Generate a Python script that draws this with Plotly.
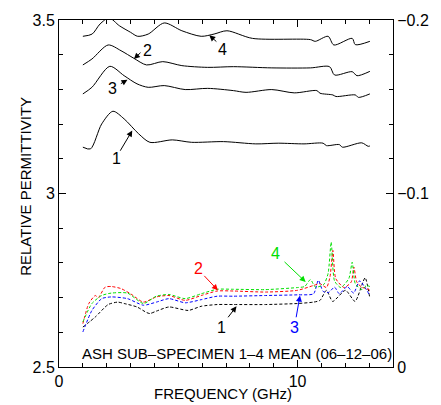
import plotly.graph_objects as go

# upper curves: imaginary part (right axis), solid black
f_im1 = [1.0, 1.32, 1.79, 2.26, 2.73, 3.34, 3.81, 4.75, 5.56, 6.9, 8.25, 9.19, 10.27,
         11.07, 11.21, 11.75, 11.88, 12.69, 12.96, 13.03]
im1 = [-0.1267, -0.1257, -0.1401, -0.1474, -0.1430, -0.1344, -0.1295, -0.1309, -0.1295,
       -0.1299, -0.1286, -0.1290, -0.1286, -0.1290, -0.1276, -0.1282, -0.1267, -0.1292,
       -0.1272, -0.1274]

f_im2 = [1.0, 1.38, 2.06, 2.6, 3.14, 3.67, 4.35, 5.15, 6.23, 7.31, 8.92, 10.54, 11.34,
         11.55, 12.29, 12.49, 13.03]
im2 = [-0.1741, -0.1775, -0.1856, -0.1823, -0.1779, -0.1741, -0.1760, -0.1737, -0.1727,
       -0.1731, -0.1724, -0.1724, -0.1731, -0.1683, -0.1702, -0.1679, -0.1704]

f_im3 = [1.0, 1.38, 2.13, 2.73, 3.27, 3.74, 4.41, 5.29, 6.23, 7.31, 7.84, 8.92, 9.86,
         10.81, 10.94, 11.48, 11.61, 12.42, 12.55, 13.03]
im3 = [-0.1574, -0.1612, -0.1733, -0.1679, -0.1632, -0.1612, -0.1622, -0.1599, -0.1606,
       -0.1593, -0.1583, -0.1599, -0.1580, -0.1593, -0.1578, -0.1568, -0.1559, -0.1568,
       -0.1554, -0.1574]

f_im4 = [1.0, 1.39, 1.72, 2.1, 2.53, 3.0, 3.3, 3.74, 4.41, 5.15, 5.96, 6.5, 7.04, 8.11,
         10.54, 10.74, 11.28, 11.52, 12.29, 12.42, 13.03]
im4 = [-0.1906, -0.1919, -0.1977, -0.2012, -0.1967, -0.1929, -0.1906, -0.1919, -0.1983,
       -0.1938, -0.1906, -0.1919, -0.1938, -0.1894, -0.1887, -0.1877, -0.1906, -0.1856,
       -0.1894, -0.1858, -0.1877]

# lower curves: real part (left axis), dashed
f_re1 = [1.0, 1.52, 2.06, 2.46, 2.73, 3.27, 3.67, 3.81, 4.08, 4.61, 5.42, 5.96, 6.63,
         7.31, 8.65, 10.0, 10.67, 10.94, 11.21, 11.47, 12.01, 12.41, 12.83, 13.03]
re1 = [2.615, 2.644, 2.680, 2.687, 2.683, 2.673, 2.657, 2.654, 2.661, 2.673, 2.663, 2.675,
       2.680, 2.680, 2.680, 2.683, 2.687, 2.692, 2.721, 2.689, 2.721, 2.689, 2.757, 2.698]

f_re2 = [1.0, 1.25, 1.52, 1.65, 1.93, 2.19, 2.6, 3.0, 3.54, 4.08, 4.61, 5.29, 5.96, 6.63,
         7.31, 8.65, 10.0, 10.67, 10.94, 11.21, 11.36, 11.48, 11.6, 11.95, 12.25, 12.36,
         12.48, 12.69, 12.89, 13.03]
re2 = [2.625, 2.683, 2.706, 2.700, 2.730, 2.732, 2.726, 2.711, 2.687, 2.702, 2.706, 2.692,
       2.706, 2.719, 2.719, 2.716, 2.721, 2.735, 2.740, 2.729, 2.760, 2.836, 2.755, 2.729,
       2.745, 2.788, 2.745, 2.730, 2.726, 2.721]

f_re3 = [1.0, 1.38, 1.79, 2.19, 2.87, 3.54, 4.08, 4.61, 5.29, 5.96, 6.63, 7.31, 8.65,
         10.0, 10.67, 10.87, 11.07, 11.3, 11.55, 11.75, 12.08, 12.35, 12.6, 13.03]
re3 = [2.601, 2.663, 2.697, 2.702, 2.697, 2.678, 2.687, 2.697, 2.685, 2.694, 2.704, 2.704,
       2.706, 2.708, 2.711, 2.750, 2.718, 2.715, 2.730, 2.711, 2.732, 2.713, 2.748, 2.706]

f_re4 = [1.0, 1.38, 1.79, 2.19, 2.87, 3.54, 4.08, 4.61, 5.29, 5.96, 6.63, 7.31, 8.65,
         10.0, 10.3, 10.54, 10.75, 11.1, 11.28, 11.41, 11.55, 11.81, 12.15, 12.29, 12.42,
         12.69, 12.89, 13.03]
re4 = [2.630, 2.683, 2.706, 2.713, 2.713, 2.683, 2.704, 2.709, 2.697, 2.711, 2.724, 2.724,
       2.723, 2.729, 2.732, 2.752, 2.730, 2.738, 2.770, 2.860, 2.748, 2.729, 2.755, 2.802,
       2.740, 2.723, 2.735, 2.732]

# arrow labels: (text, label x, label y, tail x, tail y, tip x, tip y, colour, axis)
labels = [
    ("4", 6.84, -0.1829, 6.66, -0.1868, 6.30, -0.1912, "black", "y2"),
    ("2", 3.72, -0.1827, 3.48, -0.1820, 3.14, -0.1775, "black", "y2"),
    ("3", 2.26, -0.1603, 2.53, -0.1628, 2.87, -0.1656, "black", "y2"),
    ("1", 2.43, -0.1200, 2.53, -0.1238, 3.07, -0.1363, "black", "y2"),
    ("2", 5.83, 2.783, 6.03, 2.767, 6.66, 2.721, "red", "y"),
    ("4", 9.06, 2.826, 9.39, 2.807, 10.34, 2.745, "#00e000", "y"),
    ("1", 6.83, 2.615, 7.04, 2.639, 7.44, 2.675, "black", "y"),
    ("3", 9.86, 2.615, 9.93, 2.639, 10.10, 2.706, "blue", "y"),
]

FONT = "Liberation Sans, Arial, sans-serif"

fig = go.Figure()
for fx, fy in [(f_im1, im1), (f_im2, im2), (f_im3, im3), (f_im4, im4)]:
    fig.add_trace(go.Scatter(x=fx, y=fy, yaxis="y2", mode="lines",
                             line=dict(color="black", width=1, shape="spline", smoothing=0.8)))
for fx, fy, col in [(f_re1, re1, "black"), (f_re2, re2, "red"),
                    (f_re3, re3, "blue"), (f_re4, re4, "#00e000")]:
    fig.add_trace(go.Scatter(x=fx, y=fy, mode="lines",
                             line=dict(color=col, width=1, dash="3px,2px",
                                       shape="spline", smoothing=0.6)))

ann = []
for txt, lx, ly, tx, ty, px, py, col, ax in labels:
    ann.append(dict(x=px, y=py, ax=tx, ay=ty, xref="x", yref=ax, axref="x", ayref=ax,
                    text="", showarrow=True, arrowhead=2, arrowsize=1.2, arrowwidth=1,
                    arrowcolor=col))
    ann.append(dict(x=lx, y=ly, xref="x", yref=ax, text=txt, showarrow=False,
                    font=dict(family=FONT, size=16, color=col)))
ann.append(dict(x=0.89, y=2.539, xref="x", yref="y", xanchor="left", yanchor="middle",
                text="ASH SUB\u2013SPECIMEN 1\u20134 MEAN (06\u201312\u201306)", showarrow=False,
                font=dict(family=FONT, size=15, color="black")))
ann.append(dict(x=-0.101, y=0.52, xref="paper", yref="paper", xanchor="center",
                yanchor="middle", textangle=-90,
                text="RELATIVE PERMITTIVITY", showarrow=False,
                font=dict(family=FONT, size=15, color="black")))
ann.append(dict(x=0.49, y=-0.075, xref="paper", yref="paper", xanchor="center",
                yanchor="middle", text="FREQUENCY (GHz)", showarrow=False,
                font=dict(family=FONT, size=15, color="black")))

axis_common = dict(showgrid=False, zeroline=False, showline=True, linecolor="black",
                   linewidth=1, ticks="inside", tickcolor="black", ticklen=7,
                   tickfont=dict(family=FONT, size=16, color="black"))

fig.update_layout(
    width=441, height=405, showlegend=False,
    margin=dict(l=59, r=35, t=19, b=38),
    paper_bgcolor="white", plot_bgcolor="white",
    xaxis=dict(range=[0, 14], dtick=10, mirror="ticks",
               minor=dict(dtick=1, ticklen=4, ticks="inside", tickcolor="black"),
               **axis_common),
    yaxis=dict(range=[2.5, 3.5], dtick=0.5,
               minor=dict(dtick=0.1, ticklen=4, ticks="inside", tickcolor="black"),
               **axis_common),
    yaxis2=dict(range=[0, -0.2], dtick=0.1, overlaying="y", side="right",
                minor=dict(dtick=0.02, ticklen=4, ticks="inside", tickcolor="black"),
                **axis_common),
    annotations=ann,
)

fig.write_html("out.html", config={"displayModeBar": False},
               post_script="document.body.style.margin='0';")
